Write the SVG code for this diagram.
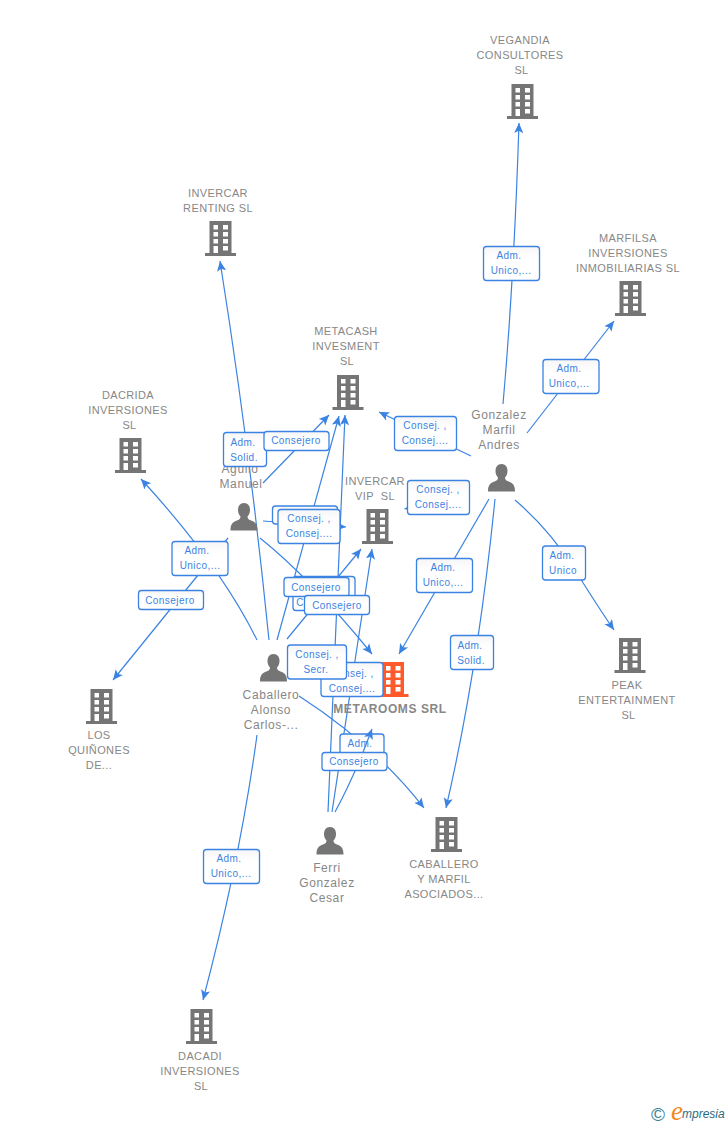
<svg xmlns="http://www.w3.org/2000/svg" width="728" height="1125" viewBox="0 0 728 1125">
<style>
text{font-family:"Liberation Sans",Arial,sans-serif}
.n{font-size:12px;fill:#878787;text-anchor:middle;letter-spacing:.6px}
.c{font-size:11px;fill:#878787;text-anchor:middle;letter-spacing:.38px}
.t{font-size:12px;font-weight:700;fill:#878787;text-anchor:middle;letter-spacing:.6px}
.e{fill:none;stroke:#3b83e2;stroke-width:1.2;marker-end:url(#a)}
.b{fill:url(#g);stroke:#3b83e2;stroke-width:1.3}
.l{font-size:10px;fill:#3b83e2;text-anchor:middle;letter-spacing:.45px}
.gr{fill:#757575}
.or{fill:#ff5a2b}
</style>
<defs>
<linearGradient id="g" x1="0" y1="0" x2="0" y2="1"><stop offset="0" stop-color="#f6f6f6"/><stop offset=".35" stop-color="#fff"/></linearGradient>
<marker id="a" markerUnits="userSpaceOnUse" markerWidth="11" markerHeight="11" refX="11" refY="5" orient="auto" viewBox="0 0 12 10"><path d="M0 0L11 5L0 10L2.500 5Z" fill="#3b83e2"/></marker>
<symbol id="bd" overflow="visible" viewBox="-16 -36 32 36" width="32" height="36">
<path d="M-11-35H11V-3H15.500V0H-15.500V-3H-11Z"/>
<path fill="#fff" d="M-7-31H-2.500V-26.500H-7ZM2.500-31H7.500V-26.500H2.500ZM-7-24H-2.500V-19.500H-7ZM2.500-24H7.500V-19.500H2.500ZM-7-17H-2.500V-12.500H-7ZM2.500-17H7.500V-12.500H2.500ZM-7-10H-2.500V-3H-7ZM2.500-10H7.500V-5.500H2.500Z"/>
</symbol>
<symbol id="pr" overflow="visible" viewBox="-14 -14 28 28" width="28" height="28">
<path d="M0-14C4-14 6-11 6-7C6-4 5-2 3.500-.5C3.500 1.500 4.500 2.500 7 3.500C11 5 13.500 6.500 13.500 13.500H-13.500C-13.500 6.500-11 5-7 3.500C-4.500 2.500-3.500 1.500-3.500-.5C-5-2-6-4-6-7C-6-11-4-14 0-14Z"/>
</symbol>
</defs>
<g id="connectors">
<path class="e" d="M503 404Q514 280 519 123"/>
<path class="e" d="M527 433L614 321"/>
<path class="e" d="M471 456L379 412"/>
<path class="e" d="M440 500L404.500 509"/>
<path class="e" d="M489 499L399 654"/>
<path class="e" d="M495 499Q478 670 446 808"/>
<path class="e" d="M515 500Q550 530 575 570T614 630"/>
<path class="e" d="M263 483L329 415"/>
<path class="e" d="M263 521L346 527"/>
<path class="e" d="M260 538Q310 578 372 654"/>
<path class="e" d="M228 538L113 680"/>
<path class="e" d="M269 640Q250 450 220 261"/>
<path class="e" d="M257 640Q220 565 141 479"/>
<path class="e" d="M277 640L339 416"/>
<path class="e" d="M287 639L361 549"/>
<path class="e" d="M299 696Q375 745 424 808"/>
<path class="e" d="M257 735Q240 860 203 1000"/>
<path class="e" d="M328 812L345 415"/>
<path class="e" d="M332 812L372 549"/>
</g>
<g id="vegandia"><use href="#bd" x="506.500" y="83" class="gr"/><text class="c" x="520" y="44">VEGANDIA</text><text class="c" x="520" y="59">CONSULTORES</text><text class="c" x="521.500" y="74">SL</text></g>
<g id="invercar-renting"><use href="#bd" x="204.500" y="220" class="gr"/><text class="c" x="218" y="197">INVERCAR</text><text class="c" x="218" y="212">RENTING SL</text></g>
<g id="marfilsa"><use href="#bd" x="614.500" y="280" class="gr"/><text class="c" x="628" y="242">MARFILSA</text><text class="c" x="628" y="257">INVERSIONES</text><text class="c" x="628" y="272">INMOBILIARIAS SL</text></g>
<g id="metacash"><use href="#bd" x="332" y="374" class="gr"/><text class="c" x="346" y="335">METACASH</text><text class="c" x="346" y="350">INVESMENT</text><text class="c" x="347" y="365">SL</text></g>
<g id="dacrida"><use href="#bd" x="114.500" y="437" class="gr"/><text class="c" x="128" y="399">DACRIDA</text><text class="c" x="128" y="414">INVERSIONES</text><text class="c" x="129.500" y="429">SL</text></g>
<g id="invercar-vip"><use href="#bd" x="361.500" y="508" class="gr"/><text class="c" x="375" y="485">INVERCAR</text><text class="c" x="375" y="500">VIP&#160;&#160;SL</text></g>
<g id="metarooms"><use href="#bd" x="377" y="661" class="or"/><text class="t" x="390" y="713">METAROOMS SRL</text></g>
<g id="los-quinones"><use href="#bd" x="85.500" y="688" class="gr"/><text class="c" x="99" y="739">LOS</text><text class="c" x="99" y="754">QUIÑONES</text><text class="c" x="99" y="769">DE...</text></g>
<g id="peak"><use href="#bd" x="614" y="637" class="gr"/><text class="c" x="627" y="689">PEAK</text><text class="c" x="627" y="704">ENTERTAINMENT</text><text class="c" x="628.500" y="719">SL</text></g>
<g id="caballero-marfil"><use href="#bd" x="430.500" y="816" class="gr"/><text class="c" x="444" y="868">CABALLERO</text><text class="c" x="444" y="883">Y MARFIL</text><text class="c" x="444" y="898">ASOCIADOS...</text></g>
<g id="dacadi"><use href="#bd" x="185.500" y="1008" class="gr"/><text class="c" x="200" y="1060">DACADI</text><text class="c" x="200" y="1075">INVERSIONES</text><text class="c" x="201" y="1090">SL</text></g>
<g id="gonzalez"><use href="#pr" x="487.500" y="464" class="gr"/><text class="n" x="499" y="419">Gonzalez</text><text class="n" x="499" y="434">Marfil</text><text class="n" x="499" y="449">Andres</text></g>
<g id="agulio"><use href="#pr" x="230" y="503" class="gr"/><text class="n" x="240" y="473">Agulio</text><text class="n" x="241" y="488">Manuel</text></g>
<g id="caballero-alonso"><use href="#pr" x="259.500" y="654" class="gr"/><text class="n" x="271" y="699">Caballero</text><text class="n" x="271" y="714">Alonso</text><text class="n" x="271" y="729">Carlos-...</text></g>
<g id="ferri"><use href="#pr" x="316" y="827" class="gr"/><text class="n" x="327" y="872">Ferri</text><text class="n" x="327" y="887">Gonzalez</text><text class="n" x="327" y="902">Cesar</text></g>
<g id="edge-labels">
<rect class="b" x="483.500" y="246.500" width="56" height="34" rx="3"/><text class="l" x="509" y="259">Adm.</text><text class="l" x="511" y="274">Unico,...</text>
<rect class="b" x="543" y="359.500" width="56" height="34" rx="3"/><text class="l" x="569" y="372">Adm.</text><text class="l" x="569" y="387">Unico,...</text>
<rect class="b" x="394.500" y="416.500" width="62" height="34" rx="3"/><text class="l" x="425" y="429">Consej. ,</text><text class="l" x="425" y="444">Consej....</text>
<rect class="b" x="407.500" y="480.500" width="62" height="34" rx="3"/><text class="l" x="438" y="493">Consej. ,</text><text class="l" x="438" y="508">Consej....</text>
<rect class="b" x="416.500" y="558.500" width="56" height="34" rx="3"/><text class="l" x="443" y="571">Adm.</text><text class="l" x="443" y="586">Unico,...</text>
<rect class="b" x="450.500" y="635.500" width="43" height="34" rx="3"/><text class="l" x="470" y="649">Adm.</text><text class="l" x="471" y="664">Solid.</text>
<rect class="b" x="542.500" y="546" width="43" height="34" rx="3"/><text class="l" x="562" y="559">Adm.</text><text class="l" x="563" y="574">Unico</text>
<rect class="b" x="203.500" y="849.500" width="56" height="34" rx="3"/><text class="l" x="229" y="862">Adm.</text><text class="l" x="231" y="877">Unico,...</text>
<rect class="b" x="223.500" y="432.500" width="43" height="34" rx="3"/><text class="l" x="243" y="446">Adm.</text><text class="l" x="244" y="461">Solid.</text>
<rect class="b" x="264" y="431.500" width="65" height="19" rx="3"/><text class="l" x="296" y="444">Consejero</text>
<rect class="b" x="172" y="541.500" width="56" height="34" rx="3"/><text class="l" x="197" y="554">Adm.</text><text class="l" x="200" y="569">Unico,...</text>
<rect class="b" x="138.500" y="590.500" width="65" height="19" rx="3"/><text class="l" x="170" y="604">Consejero</text>
<rect class="b" x="272.500" y="506" width="65" height="18" rx="3"/>
<rect class="b" x="278" y="509.500" width="62" height="34" rx="3"/><text class="l" x="309" y="522">Consej. ,</text><text class="l" x="309" y="537">Consej....</text>
<rect class="b" x="293" y="576.500" width="62" height="34" rx="3"/><text class="l" x="300" y="606">C</text>
<rect class="b" x="284" y="577.500" width="65" height="19" rx="3"/><text class="l" x="316" y="591">Consejero</text>
<rect class="b" x="304.500" y="595.500" width="65" height="19" rx="3"/><text class="l" x="337" y="609">Consejero</text>
<rect class="b" x="321" y="662.500" width="62" height="34" rx="3"/><text class="l" x="352" y="677">Consej. ,</text><text class="l" x="352" y="692">Consej....</text>
<rect class="b" x="287.500" y="645" width="59" height="34" rx="3"/><text class="l" x="317" y="658">Consej. ,</text><text class="l" x="316" y="673">Secr.</text>
<rect class="b" x="340" y="734" width="44" height="24" rx="3"/><text class="l" x="360" y="747">Adm.</text>
</g>
<g id="connectors-over"><path class="e" d="M335 812Q355 775 372 729"/></g>
<g id="edge-labels-over">
<rect class="b" x="322" y="752.500" width="65" height="18" rx="3"/><text class="l" x="354" y="765">Consejero</text>
</g>
<g id="brand">
<text x="658" y="1120.500" font-size="19" fill="#3d7f96" text-anchor="middle">©</text>
<text x="671" y="1120" font-size="27" font-style="italic" fill="#f28a1e" style='font-family:"Liberation Serif",serif'>e</text>
<text x="682" y="1118" font-size="12" font-style="italic" fill="#2c6b80">mpresia</text>
</g>
</svg>
